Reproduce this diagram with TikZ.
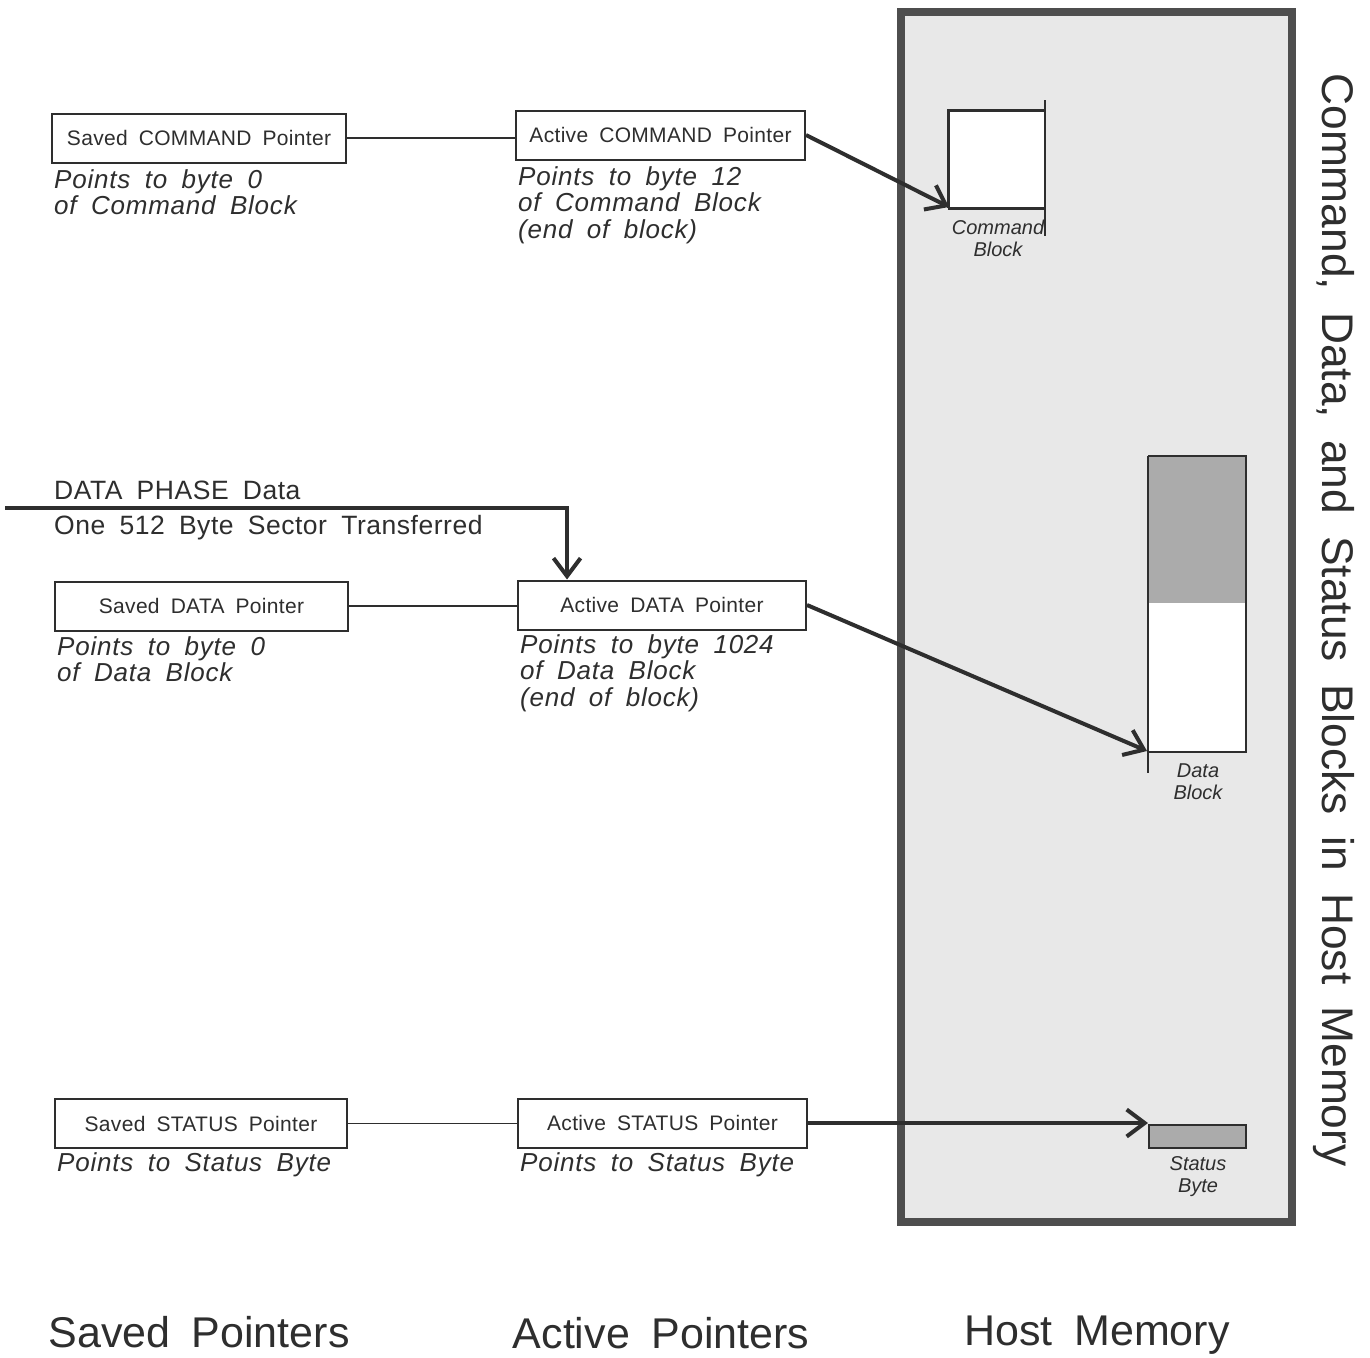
\documentclass[tikz,border=0pt]{standalone}
\usepackage{fontspec}
\setmainfont{Liberation Sans}[WordSpace=1.8]
\newfontfamily\notefont{Liberation Sans}[WordSpace=1.8, LetterSpace=3]
\newfontfamily\boxfont{Liberation Sans}[WordSpace=1.8, LetterSpace=1.5]
\newfontfamily\phasefont{Liberation Sans}[WordSpace=1.8, LetterSpace=2]
\usetikzlibrary{arrows.meta}
\definecolor{ink}{HTML}{2E2E2E}
\definecolor{memfill}{HTML}{E8E8E8}
\definecolor{frame}{HTML}{4E4E4E}
\definecolor{blockgray}{HTML}{ABABAB}
\begin{document}
\begin{tikzpicture}[x=1pt,y=-1pt,
  ptr/.style={draw=ink, line width=2pt, minimum height=49pt, inner sep=0pt,
    font=\boxfont\fontsize{21}{21}\selectfont, text=ink},
  note/.style={anchor=north west, align=left, inner sep=0pt, text=ink,
    font=\notefont\itshape\fontsize{26}{26.5}\selectfont},
  plain/.style={anchor=west, inner sep=0pt, text=ink, font=\phasefont\fontsize{26.5}{26.5}\selectfont},
  blocklabel/.style={align=center, inner sep=0pt, text=ink,
    font=\itshape\fontsize{20}{22}\selectfont},
  heading/.style={inner sep=0pt, text=ink, font=\fontsize{43}{43}\selectfont},
  link/.style={draw=ink, line width=1.2pt},
  arr/.style={draw=ink, line width=4pt, -{Straight Barb[length=18pt,width=27pt,line width=4pt]}},
]
\useasboundingbox[fill=white] (0,0) rectangle (1370,1357);

% Host memory
\draw[frame, fill=memfill, line width=8pt] (901,12) rectangle (1292,1222);

% Command block
\fill[white] (948,110) rectangle (1045,208);
\draw[ink, line width=3pt] (948,208) -- (948,110) -- (1045,110);
\draw[ink, line width=3pt] (948,208) -- (1045,208);
\draw[ink, line width=2pt] (1045,100) -- (1045,236);
\node[blocklabel] (cmdlabel) at (998,238) {Command\\Block};
\coordinate (cmdtip) at (949,207);

% Data block
\fill[blockgray] (1148,456) rectangle (1246,603);
\fill[white] (1148,603) rectangle (1246,752);
\draw[ink, line width=2.5pt] (1148,456) -- (1246,456) -- (1246,752) -- (1148,752);
\draw[ink, line width=2pt] (1148,456) -- (1148,773);
\node[blocklabel] (datalabel) at (1198,782) {Data\\Block};
\coordinate (datatip) at (1147,751);

% Status byte
\draw[ink, fill=blockgray, line width=2.5pt] (1149,1125) rectangle (1246,1148);
\node[blocklabel] (statlabel) at (1198,1177) {Status\\Byte};
\coordinate (stattip) at (1148,1123);

% Pointer boxes
\node[ptr, minimum width=294pt] (sc) at (199,138) {Saved COMMAND Pointer};
\node[ptr, minimum width=289pt] (ac) at (660.5,135) {Active COMMAND Pointer};
\node[ptr, minimum width=293pt] (sd) at (201.5,606) {Saved DATA Pointer};
\node[ptr, minimum width=288pt] (ad) at (662,605) {Active DATA Pointer};
\node[ptr, minimum width=292pt] (ss) at (201,1123.5) {Saved STATUS Pointer};
\node[ptr, minimum width=289pt] (as) at (662.5,1123) {Active STATUS Pointer};

% Notes
\node[note] (scn) at (54,169) {Points to byte 0\\of Command Block};
\node[note] (acn) at (518,166) {Points to byte 12\\of Command Block\\(end of block)};
\node[note] (sdn) at (57,636) {Points to byte 0\\of Data Block};
\node[note] (adn) at (520,634) {Points to byte 1024\\of Data Block\\(end of block)};
\node[note] (ssn) at (57,1152) {Points to Status Byte};
\node[note] (asn) at (520,1152) {Points to Status Byte};

% Connectors
\draw[link] (sc.east) -- (ac.west |- sc.east);
\draw[link] (sd.east) -- (ad.west |- sd.east);
\draw[link] (ss.east) -- (as.west |- ss.east);
\draw[arr] (ac.east) -- (cmdtip);
\draw[arr] (ad.east) -- (datatip);
\draw[arr] (as.east) -- (stattip);

% Data phase
\node[plain] (dp1) at (54,490) {DATA PHASE Data};
\node[plain] (dp2) at (54,528) {One 512 Byte Sector Transferred};
\coordinate (dpstart) at (5,508);
\coordinate (dpturn) at (567,508);
\draw[arr] (dpstart) -- (dpturn) -- (dpturn |- ad.north);

% Headings
\node[heading] (h1) at (199,1332) {Saved Pointers};
\node[heading] (h2) at (661,1333) {Active Pointers};
\node[heading] (h3) at (1097,1335) {Host Memory};
\node[heading, font=\fontsize{44.3}{44.3}\selectfont, rotate=-90] (title) at (1334,620) {Command, Data, and Status Blocks in Host Memory};
\end{tikzpicture}
\end{document}
